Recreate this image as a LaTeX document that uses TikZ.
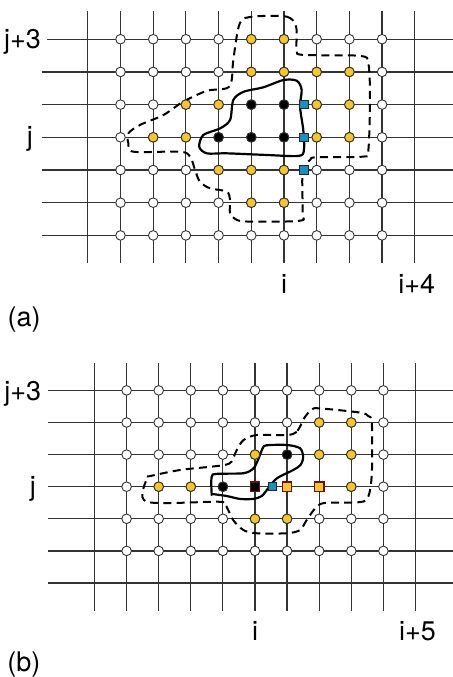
\documentclass[tikz,border=0pt]{standalone}
\usepackage{fontspec}
\setmainfont{TeX Gyre Heros}
\definecolor{gold}{HTML}{F7C531}
\definecolor{cyanblue}{HTML}{1B8EC2}
\definecolor{darkred}{HTML}{6E1010}

\begin{document}
\begin{tikzpicture}[x=0.5pt,y=-0.5pt,
	gridline/.style={line width=0.6pt,black!80},
	site/.style={circle,draw=black!80,line width=0.45pt,fill=white,minimum size=4.8pt,inner sep=0pt},
	full/.style={site,fill=gold},
	core/.style={site,fill=black},
	fluxbox/.style={rectangle,draw=black!85,line width=0.5pt,fill=cyanblue,minimum size=4.1pt,inner sep=0pt},
	facebox/.style={rectangle,draw=darkred,line width=0.8pt,minimum size=4.6pt,inner sep=0pt},
	front/.style={line width=1.1pt},
	band/.style={line width=1pt,dash pattern=on 4pt off 2.6pt},
	lab/.style={font=\fontsize{13.5}{15}\selectfont}]
	\useasboundingbox (0,0) rectangle (453,677);

	% (a)
	\begin{scope}[shift={(284,137.3)},x=16.35pt,y=16.35pt]
		\foreach \x in {-6,...,4}
			\draw[gridline] (\x,-3.84) -- (\x,3.86);
		\foreach \y in {-3,...,2}
			\draw[gridline] (-7.41,\y) -- (5.17,\y);
		\draw[gridline] (-7.25,3) -- (5.17,3);

		\draw[band] plot[smooth cycle,tension=0.5] coordinates {
			(-0.94,3.69) (0.08,3.69) (0.37,3.38) (0.39,2.67) (0.59,2.52) (2.32,2.49)
			(2.58,2.26) (2.63,1.14) (2.58,-0.39) (2.43,-0.59) (1.0,-0.61) (0.80,-0.69)
			(0.57,-1.05) (0.57,-2.32) (0.49,-2.55) (-0.94,-2.58) (-1.44,-2.53)
			(-1.65,-2.32) (-1.65,-1.92) (-1.75,-1.66) (-2.26,-1.56) (-2.57,-1.36)
			(-2.72,-1.0) (-2.87,-0.59) (-3.18,-0.44) (-4.61,-0.44) (-4.76,-0.18)
			(-4.76,0.12) (-4.40,0.38) (-3.69,0.68) (-3.08,1.09) (-2.36,1.42)
			(-1.75,1.50) (-1.60,1.75) (-1.55,2.36) (-1.35,3.49)};
		\draw[front] plot[smooth cycle,tension=0.5] coordinates {
			(-2.59,-0.29) (-2.47,0.07) (-1.96,0.27) (-1.65,0.53) (-1.55,1.14)
			(-1.24,1.39) (-0.63,1.53) (-0.02,1.75) (0.39,1.73) (0.54,1.45) (0.49,0.94)
			(0.59,0.22) (0.61,-0.39) (0.44,-0.57) (-0.53,-0.54) (-1.75,-0.49) (-2.36,-0.49)};

		\foreach \c in {1,...,9}
			\foreach \r in {0,...,6}
				\node[site] (a-\c-\r) at (\c-6,3-\r) {};
		\foreach \c/\r in {5/0,6/0,5/1,6/1,7/1,8/1,3/2,4/2,7/2,8/2,2/3,3/3,7/3,8/3,4/4,5/4,6/4,5/5,6/5}
			\node[full] (a-\c-\r) at (\c-6,3-\r) {};
		\foreach \c/\r in {5/2,6/2,4/3,5/3,6/3}
			\node[core] (a-\c-\r) at (\c-6,3-\r) {};
		\foreach \r in {2,3,4}
			\node[fluxbox] (qa-\r) at (0.61,3-\r) {};

		\node[lab,anchor=base east] (ja3) at (-7.22,2.72) {j+3};
		\node[lab,anchor=base] (ja) at (-7.77,-0.24) {j};
		\node[lab,anchor=base] (ia) at (0,-4.77) {i};
		\node[lab,anchor=base] (ia4) at (4.06,-4.77) {i+4};
		\node[lab,anchor=base] (capa) at (-7.95,-5.80) {(a)};
	\end{scope}

	% (b)
	\begin{scope}[shift={(255,486.7)},x=16.05pt,y=16.05pt]
		\foreach \x in {-5,...,5}
			\draw[gridline] (\x,-3.86) -- (\x,3.84);
		\foreach \y in {-3,...,3}
			\draw[gridline] (-6.44,\y) -- (6.17,\y);

		\draw[band] plot[smooth cycle,tension=0.5] coordinates {
			(1.50,2.08) (1.30,1.71) (0.99,1.61) (0.05,1.61) (-0.36,1.45) (-0.57,1.14)
			(-0.73,0.78) (-0.93,0.68) (-1.40,0.62) (-2.34,0.52) (-3.27,0.33)
			(-3.37,0.26) (-3.37,-0.47) (-1.09,-0.47) (-0.88,-0.64) (-0.68,-1.04)
			(-0.36,-1.35) (0.05,-1.45) (0.99,-1.45) (1.40,-1.35) (1.61,-1.04)
			(1.92,-0.62) (2.23,-0.50) (3.27,-0.48) (3.53,-0.31) (3.64,0.42)
			(3.64,1.98) (3.53,2.20) (3.27,2.31) (2.02,2.44) (1.77,2.41) (1.56,2.18)};
		\draw[front] plot[smooth cycle,tension=0.5] coordinates {
			(-1.35,-0.21) (-1.35,0.31) (-1.19,0.40) (-0.36,0.42) (-0.05,0.57)
			(0.10,0.85) (0.24,1.20) (0.36,1.29) (0.99,1.30) (1.40,1.20) (1.50,0.93)
			(1.42,0.68) (1.19,0.52) (0.68,0.26) (0.41,-0.05) (0.21,-0.29)
			(-0.05,-0.38) (-0.47,-0.38) (-0.88,-0.29) (-1.30,-0.23)};

		\foreach \c in {1,...,9}
			\foreach \r in {0,...,5}
				\node[site] (b-\c-\r) at (\c-5,3-\r) {};
		\foreach \c/\r in {7/1,8/1,5/2,7/2,8/2,2/3,3/3,8/3,5/4,6/4}
			\node[full] (b-\c-\r) at (\c-5,3-\r) {};
		\foreach \c/\r in {6/2,4/3}
			\node[core] (b-\c-\r) at (\c-5,3-\r) {};
		\node[facebox,fill=black] (b-5-3) at (0,0) {};
		\node[fluxbox] (qb) at (0.54,0) {};
		\node[facebox,fill=gold] (b-6-3) at (1,0) {};
		\node[facebox,fill=gold] (b-7-3) at (2,0) {};

		\node[lab,anchor=base east] (jb3) at (-6.44,2.70) {j+3};
		\node[lab,anchor=base] (jb) at (-6.92,-0.26) {j};
		\node[lab,anchor=base] (ib) at (0,-4.78) {i};
		\node[lab,anchor=base] (ib5) at (5.06,-4.78) {i+5};
		\node[lab,anchor=base] (capb) at (-7.20,-5.77) {(b)};
	\end{scope}
\end{tikzpicture}
\end{document}
